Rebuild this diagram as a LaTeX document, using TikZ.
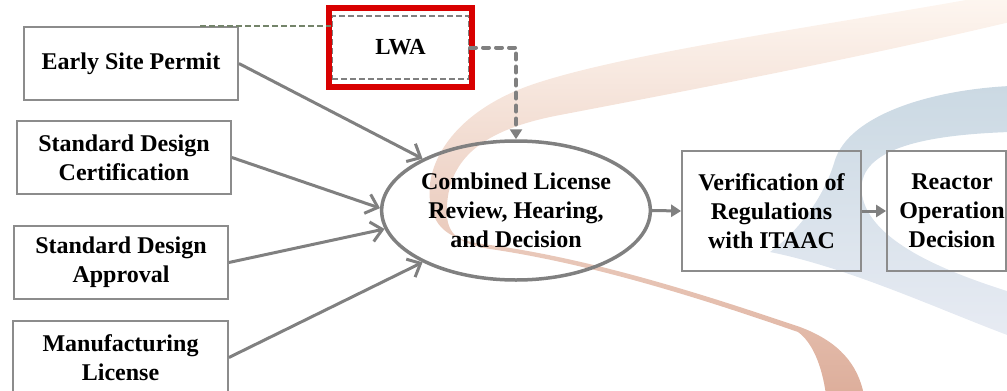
\documentclass[tikz,border=0pt]{standalone}
\usepackage{fontspec}
\setmainfont{Liberation Serif}
\usetikzlibrary{arrows.meta,shapes.geometric,fit}

\definecolor{edgegray}{HTML}{8C8C8C}
\definecolor{linkgray}{HTML}{808080}
\definecolor{olivegray}{HTML}{74846A}
\definecolor{framered}{HTML}{D80000}
\definecolor{peachtop}{HTML}{FEF7F1}
\definecolor{peachmid}{HTML}{FAEDE6}
\definecolor{peachlow}{HTML}{DDAE9B}
\definecolor{bluetop}{HTML}{CBD9E3}
\definecolor{bluelow}{HTML}{E7EBF3}

\begin{document}
\begin{tikzpicture}[x=1pt,y=-1pt,
  every node/.style={font=\fontsize{24}{29}\selectfont\bfseries, text=black, align=center},
  stagebox/.style={draw=edgegray, line width=1.8pt, minimum width=214pt, minimum height=73pt, inner sep=0pt},
  hub/.style={ellipse, draw=linkgray, line width=3.5pt, minimum width=264pt, minimum height=139pt, inner sep=0pt},
  feed/.style={draw=linkgray, line width=3pt, -{Straight Barb[length=11pt,width=20pt]}},
  advance/.style={draw=linkgray, line width=3pt, -{Triangle[length=10pt,width=12pt]}},
  lwabox/.style={draw=linkgray, line width=2pt, dash pattern=on 6pt off 3pt, minimum width=137pt, minimum height=63pt, font=\fontsize{23}{27}\selectfont\bfseries},
  lwaframe/.style={draw=framered, line width=6pt, inner xsep=2pt, inner ysep=7pt},
  sitelink/.style={draw=olivegray, line width=2.5pt, dash pattern=on 6pt off 3pt},
  lwafeed/.style={draw=linkgray, line width=4pt, line cap=round, dash pattern=on 6pt off 7pt, -{Triangle[length=10pt,width=12pt]}}
]
\useasboundingbox (0,0) rectangle (1007,391);

% background ribbons
\begin{scope}
\clip (0,0) rectangle (1007,391);
\shade[top color=peachtop, middle color=peachmid, bottom color=peachlow]
  (1010,-8)
  .. controls (850,22) and (640,50) .. (540,82)
  .. controls (450,110) and (420,170) .. (432,210)
  .. controls (438,232) and (455,241) .. (490,245)
  .. controls (600,260) and (720,300) .. (800,327)
  .. controls (840,342) and (858,365) .. (864,395)
  -- (826,395)
  .. controls (822,365) and (812,342) .. (798,332)
  .. controls (720,305) and (600,265) .. (490,249)
  .. controls (455,243) and (445,232) .. (447,205)
  .. controls (450,160) and (480,130) .. (560,115)
  .. controls (680,92) and (850,60) .. (1010,22)
  -- cycle;
\shade[top color=bluetop, bottom color=bluelow]
  (1010,86)
  .. controls (930,90) and (850,115) .. (835,160)
  .. controls (825,195) and (800,230) .. (770,252)
  .. controls (850,268) and (940,310) .. (1010,336)
  -- (1010,292)
  .. controls (940,270) and (870,240) .. (862,195)
  .. controls (855,150) and (920,135) .. (1010,132)
  -- cycle;
\end{scope}

% licensing inputs
\node[stagebox] (esp) at (131,63.5) {Early Site Permit};
\node[stagebox] (sdc) at (124,157.5) {Standard Design\\Certification};
\node[stagebox] (sda) at (121,262.5) {Standard Design\\Approval};
\node[stagebox, minimum width=215pt] (ml) at (120.5,357.5) {Manufacturing\\License};

% combined license
\node[hub] (cl) at (516,210.5) {Combined License\\Review, Hearing,\\and Decision};

% later stages
\node[stagebox, minimum width=179pt, minimum height=120pt] (vr) at (771.5,211) {Verification of\\Regulations\\with ITAAC};
\node[stagebox, minimum width=119pt, minimum height=120pt] (ro) at (946.5,211) {};
\node (rotext) at (952,211) {Reactor\\Operation\\Decision};

% limited work authorization
\node[lwabox] (lwa) at (400.5,47.5) {LWA};
\node[lwaframe, fit=(lwa)] (lwaredframe) {};

% connectors
\draw[feed] (esp.east) -- (cl.151);
\draw[feed] (sdc.east) -- (cl.179);
\draw[feed] (sda.east) -- (cl.188);
\draw[feed] (ml.east) -- (cl.209);
\draw[advance] (cl.east) -- (vr.west);
\draw[advance] (vr.east) -- (ro.west);

\coordinate (espTap) at ([xshift=69pt]esp.north);
\draw[sitelink] (espTap) -- (espTap -| lwa.west);
\draw[lwafeed] (lwa.east) -| (cl.north);
\end{tikzpicture}
\end{document}
